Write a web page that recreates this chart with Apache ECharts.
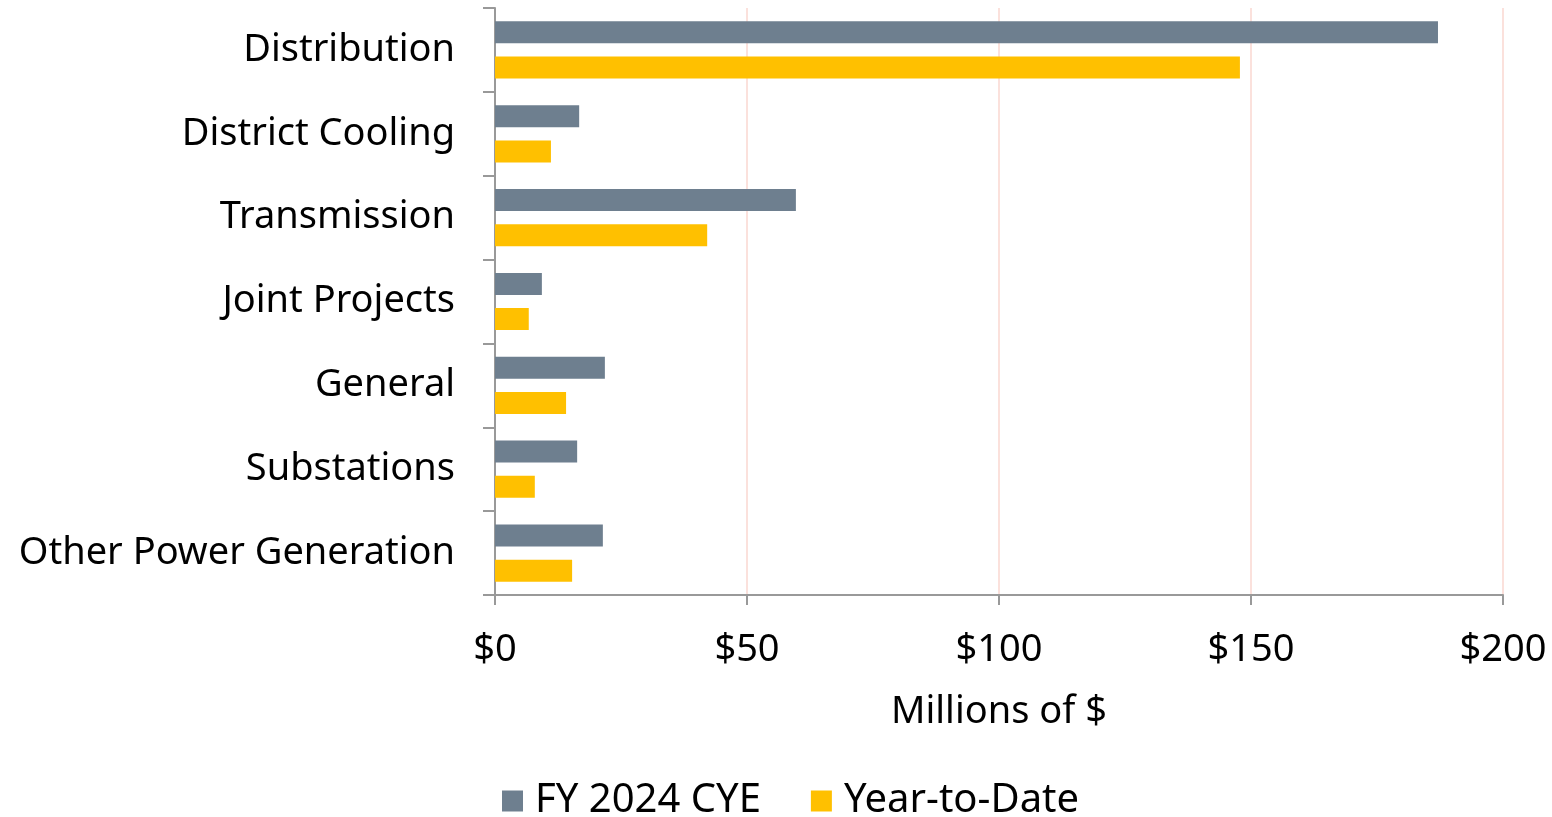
<!DOCTYPE html>
<html>
<head>
<meta charset="utf-8">
<script src="https://cdn.jsdelivr.net/npm/echarts@6/dist/echarts.min.js"></script>
<style>
  html, body { margin: 0; padding: 0; background: #fff; }
  #chart { width: 1552px; height: 817px; }
</style>
</head>
<body>
<div id="chart"></div>
<script>
// categories, top to bottom
var categories = ['Distribution', 'District Cooling', 'Transmission', 'Joint Projects', 'General', 'Substations', 'Other Power Generation'];
// millions of $
var cyeValues = [187.1, 16.7, 59.7, 9.3, 21.8, 16.3, 21.4];
var ytdValues = [147.8, 11.1, 42.1, 6.7, 14.1, 7.9, 15.3];
var xTicks = [0, 50, 100, 150, 200];

var font = 'Noto Sans';

var myChart = echarts.init(document.getElementById('chart'));
var option = {
    animation: false,
    color: ['#6e7f8f', '#ffc000'],
    grid: {
        left: 495,
        right: 49,
        top: 8,
        bottom: 222
    },
    legend: {
        top: 776,
        left: 497,
        itemWidth: 21,
        itemHeight: 21,
        itemGap: 50,
        icon: 'rect',
        textStyle: { fontFamily: font, fontSize: 40, color: '#000', padding: [0, 0, 0, 7] },
        data: ['FY 2024 CYE', 'Year-to-Date']
    },
    xAxis: {
        type: 'value',
        min: xTicks[0],
        max: xTicks[xTicks.length - 1],
        interval: 50,
        name: 'Millions of $',
        nameLocation: 'middle',
        nameGap: 98,
        nameTextStyle: { fontFamily: font, fontSize: 38, color: '#000' },
        axisLine: { show: true, lineStyle: { color: '#999', width: 2 } },
        axisTick: { show: true, length: 10, lineStyle: { color: '#999', width: 2 } },
        axisLabel: {
            margin: 36,
            fontFamily: font,
            fontSize: 38,
            color: '#000',
            formatter: function(v) { return '$' + v; }
        },
        splitLine: { show: true, lineStyle: { color: '#fbe1dc', width: 2 } }
    },
    yAxis: {
        type: 'category',
        inverse: true,
        data: categories,
        axisLine: { show: true, lineStyle: { color: '#999', width: 2 } },
        axisTick: { show: true, length: 12, lineStyle: { color: '#999', width: 2 } },
        axisLabel: {
            margin: 40,
            fontFamily: font,
            fontSize: 38,
            color: '#000'
        },
        splitLine: { show: false }
    },
    series: [
        {
            name: 'FY 2024 CYE',
            type: 'bar',
            data: cyeValues,
            barWidth: 22,
            barGap: '60%'
        },
        {
            name: 'Year-to-Date',
            type: 'bar',
            data: ytdValues,
            barWidth: 22,
            barGap: '60%'
        }
    ]
};
myChart.setOption(option);
</script>
</body>
</html>
